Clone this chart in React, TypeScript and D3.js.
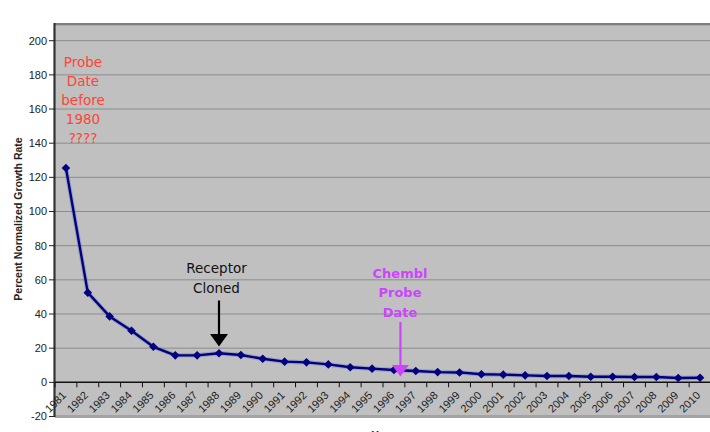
import React from "react";
import * as d3 from "d3";

const years: string[] = [
  "1981","1982","1983","1984","1985","1986","1987","1988","1989","1990",
  "1991","1992","1993","1994","1995","1996","1997","1998","1999","2000",
  "2001","2002","2003","2004","2005","2006","2007","2008","2009","2010",
];
const rates: number[] = [
  125.5, 52.5, 38.6, 30.2, 20.8, 15.8, 15.8, 17.0, 16.0, 13.8,
  12.1, 11.7, 10.5, 8.8, 8.0, 7.2, 6.6, 6.0, 5.8, 4.7,
  4.5, 4.1, 3.7, 3.7, 3.3, 3.3, 3.1, 3.1, 2.5, 2.7,
];
const yTicks: number[] = [-20, 0, 20, 40, 60, 80, 100, 120, 140, 160, 180, 200];
const probeNote: string[] = ["Probe", "Date", "before", "1980", "????"];
const receptorNote: string[] = ["Receptor", "Cloned"];
const chemblNote: string[] = ["Chembl", "Probe", "Date"];
const receptorYear = "1988";
const chemblYear = "1996";

const W = 710;
const H = 432;
const plotLeft = 55;
const plotRight = 711;
const plotTop = 23;
const plotBottom = 417;

export default function App() {
  const x = d3.scaleBand<string>().domain(years).range([plotLeft, plotRight]).padding(0);
  const y = d3.scaleLinear().domain([-20, 200]).range([416.5, 40.7]);
  const cx = (yr: string) => (x(yr) as number) + x.bandwidth() / 2;
  const data = years.map((yr, i) => ({ yr, v: rates[i] }));
  const line = d3
    .line<{ yr: string; v: number }>()
    .x((d) => cx(d.yr))
    .y((d) => y(d.v));
  const pathD = line(data) || "";
  const diamond = "M0,-4.3L4.3,0L0,4.3L-4.3,0Z";
  const y0 = y(0);
  const font = "Arial, 'Liberation Sans', sans-serif";
  const annFont = "'DejaVu Sans', Verdana, sans-serif";

  const recX = cx(receptorYear);
  const chemX = cx(chemblYear) + 6.5;

  return (
    <div style={{ position: "absolute", left: 0, top: 0 }}>
      <svg width={W} height={H} style={{ display: "block", background: "#fff" }}>
        <defs>
          <clipPath id="plotclip">
            <rect x={plotLeft} y={plotTop} width={plotRight - plotLeft} height={plotBottom - plotTop} />
          </clipPath>
        </defs>
        <rect x={plotLeft} y={plotTop} width={plotRight - plotLeft} height={plotBottom - plotTop} fill="#C0C0C0" />
        {yTicks.filter((t) => t > 0).map((t) => (
          <line key={"g" + t} x1={plotLeft} x2={plotRight} y1={y(t)} y2={y(t)} stroke="#8C8C8C" strokeWidth={1} />
        ))}
        <rect x={plotLeft} y={plotTop} width={plotRight - plotLeft} height={2.3} fill="#7E7E7E" />
        <rect x={plotLeft} y={plotBottom - 2} width={plotRight - plotLeft} height={3} fill="#A3A3A3" />
        <line x1={plotLeft - 0.5} x2={plotLeft - 0.5} y1={plotTop} y2={plotBottom} stroke="#333" strokeWidth={2.2} />
        {yTicks.map((t) => (
          <g key={"yt" + t}>
            <line x1={plotLeft - 6} x2={plotLeft} y1={y(t)} y2={y(t)} stroke="#222" strokeWidth={1} />
            <text x={47} y={y(t)} dy="0.36em" textAnchor="end" fontFamily={font} fontSize={11} fill="#222">
              {t}
            </text>
          </g>
        ))}
        <line x1={plotLeft} x2={plotRight} y1={y0} y2={y0} stroke="#111" strokeWidth={1.5} />
        {years.map((yr) => (
          <line key={"xt" + yr} x1={x(yr) as number} x2={x(yr) as number} y1={y0} y2={y0 + 5} stroke="#111" strokeWidth={1} />
        ))}
        {years.map((yr) => (
          <text
            key={"xl" + yr}
            transform={`translate(${cx(yr) + 1},${396}) rotate(-45)`}
            textAnchor="end"
            fontFamily={font}
            fontSize={11}
            fill="#222"
          >
            {yr}
          </text>
        ))}
        <g clipPath="url(#plotclip)">
          <path d={pathD} fill="none" stroke="#5A64A8" strokeOpacity={0.35} strokeWidth={4.5} />
          <path d={pathD} fill="none" stroke="#000080" strokeWidth={2.4} strokeLinejoin="round" />
          {data.map((d) => (
            <path key={"m" + d.yr} d={diamond} transform={`translate(${cx(d.yr)},${y(d.v)})`} fill="#000080" />
          ))}
        </g>
        {probeNote.map((s, i) => (
          <text key={"pn" + i} x={83} y={62 + i * 19} dy="0.35em" textAnchor="middle" fontFamily={annFont} fontSize={13.5} fill="#FF4433">
            {s}
          </text>
        ))}
        {receptorNote.map((s, i) => (
          <text key={"rn" + i} x={216.5} y={268.5 + i * 19.3} dy="0.35em" textAnchor="middle" fontFamily={annFont} fontSize={13.5} fill="#111">
            {s}
          </text>
        ))}
        <line x1={recX} x2={recX} y1={300.5} y2={338} stroke="#000" strokeWidth={2.2} />
        <path d={`M${recX - 9},${334}L${recX + 9},${334}L${recX},${346.5}Z`} fill="#000" />
        {chemblNote.map((s, i) => (
          <text key={"cn" + i} x={400} y={273.5 + i * 19.4} dy="0.35em" textAnchor="middle" fontFamily={annFont} fontWeight="bold" fontSize={13} fill="#CC44FF">
            {s}
          </text>
        ))}
        <line x1={chemX} x2={chemX} y1={322} y2={368} stroke="#CC44FF" strokeWidth={2.2} />
        <path d={`M${chemX - 8.5},${365}L${chemX + 8.5},${365}L${chemX},${376.5}Z`} fill="#CC44FF" />
        <text
          transform={`translate(21.5,219) rotate(-90)`}
          textAnchor="middle"
          fontFamily={font}
          fontWeight="bold"
          fontSize={10.5}
          fill="#222"
        >
          Percent Normalized Growth Rate
        </text>
        <text x={383} y={439} textAnchor="middle" fontFamily={font} fontWeight="bold" fontSize={11} fill="#222">
          Year
        </text>
      </svg>
    </div>
  );
}
